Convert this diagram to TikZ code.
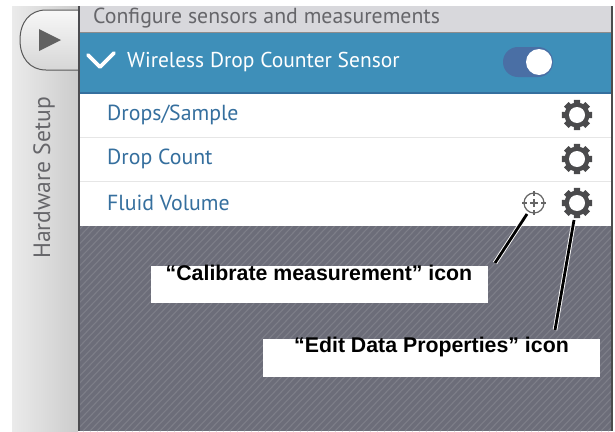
\documentclass[tikz,border=0pt]{standalone}
\usepackage{fontspec}
\setmainfont{PT Sans}
\newfontfamily\callfont{Liberation Sans}
\definecolor{blueband}{HTML}{3E8FB9}
\definecolor{bluetext}{HTML}{356F9E}
\definecolor{knobtrack}{HTML}{4A6FA5}
\definecolor{gearcol}{HTML}{4A4A4C}
\definecolor{hatchbg}{HTML}{6C6D79}
\definecolor{hatchln}{HTML}{7D7E88}
\definecolor{topband}{HTML}{D8D8DC}
\definecolor{greytext}{HTML}{66666A}
\definecolor{edgecol}{HTML}{4C4C50}
\definecolor{sepcol}{HTML}{E6E6E6}
\tikzset{
  rowlabel/.style={anchor=west,text=bluetext,font=\fontsize{21.8}{23}\selectfont,inner sep=0pt},
  callbox/.style={fill=white,inner sep=0pt,minimum height=37.5pt,minimum width=337pt},
  calltext/.style={font=\callfont\bfseries\fontsize{21.3}{23}\selectfont,text=black,inner sep=0pt,anchor=base},
  leaderw/.style={draw=white,line width=4.6pt},
  leaderb/.style={draw=black,line width=2.8pt},
  gearicon/.pic={
    \fill[gearcol,line join=round]
      \foreach \a in {0,45,...,315} {
        (\a-17:11pt) -- (\a-12:15.5pt) -- (\a+12:15.5pt) -- (\a+17:11pt) -- cycle
      };
    \fill[gearcol] (0,0) circle (12.5pt);
    \fill[white] (0,0) circle (8pt);
  },
}
\begin{document}
\begin{tikzpicture}[x=1pt,y=-1pt]
\useasboundingbox (0,0) rectangle (615,431);
\fill[white] (0,0) rectangle (615,431);
% sidebar
\shade[left color=black!8,right color=black!20] (12,6) rectangle (78,431);
% tab
\shade[top color=black!3,bottom color=black!16,draw=black!65,line width=1pt]
  (78,10) -- (46,10) .. controls (30,10) and (20,22) .. (20,40) .. controls (20,58) and (30,70) .. (46,70) -- (78,70);
\fill[black!62] (39,29) -- (61,40) -- (39,51) -- cycle;
\node[rotate=90,text=greytext,font=\fontsize{23.6}{25}\selectfont,inner sep=0pt] (hwsetup) at (44,178) {Hardware Setup};
% main panel
\fill[topband] (80,6) rectangle (611,32);
\fill[black!45] (80,31.5) rectangle (611,33);
\fill[blueband] (80,33) rectangle (611,92);
\fill[bluetext] (80,92) rectangle (611,93.5);
\fill[white] (80,93.5) rectangle (611,226);
\fill[sepcol] (80,136.5) rectangle (611,138);
\fill[sepcol] (80,180.5) rectangle (611,182);
\fill[hatchbg] (80,226) rectangle (611,431);
\begin{scope}
  \clip (80,226) rectangle (611,431);
  \foreach \k in {0,7,...,770} {
    \draw[hatchln,line width=1.1pt] (\k-120,431) -- ++(210,-220);
  }
\end{scope}
\fill[edgecol] (78,6) rectangle (80,431);
\fill[black!70] (611,6) rectangle (613,431);
% texts
\node[anchor=west,text=greytext,font=\fontsize{21.8}{23}\selectfont,inner sep=0pt] (title) at (93,18) {Configure sensors and measurements};
\draw[white,line width=3.8pt,line cap=round,line join=round] (88,55) -- (100,67) -- (114,53);
\node[anchor=west,text=white,font=\fontsize{21.5}{23}\selectfont,inner sep=0pt] (sensor) at (127,62) {Wireless Drop Counter Sensor};
\fill[knobtrack,rounded corners=14.9pt] (503,47) rectangle (553,77);
\fill[white] (539,62) circle (13pt);
\node[rowlabel] (r1) at (107,115) {Drops/Sample};
\node[rowlabel] (r2) at (107,159) {Drop Count};
\node[rowlabel] (r3) at (107,203) {Fluid Volume};
\pic at (577,115) {gearicon};
\pic at (577,159) {gearicon};
\pic at (577,203) {gearicon};
% target icon
\coordinate (target) at (534,203);
\draw[black!60,line width=1.2pt] (target) circle (10pt);
\draw[black!60,line width=1.2pt] (534,191) -- (534,196) (534,210) -- (534,215) (522,203) -- (527,203) (541,203) -- (546,203) (530,203) -- (538,203) (534,199) -- (534,207);
% callouts
\coordinate (gearfoot) at (574,220);
\coordinate (targetfoot) at (527,214);
\coordinate (calltip) at (495,263);
\coordinate (edittip) at (555,330);
\draw[leaderw] (targetfoot) -- (calltip);
\draw[leaderw] (gearfoot) -- (edittip);
\draw[leaderb] (targetfoot) -- (calltip);
\draw[leaderb] (gearfoot) -- (edittip);
\node[callbox] (calbox) at (319.5,284.5) {};
\node[callbox] (editbox) at (431.5,358) {};
\node[calltext] (caltext) at (319,280) {“Calibrate measurement” icon};
\node[calltext] (edittext) at (431.5,352) {“Edit Data Properties” icon};
\end{tikzpicture}
\end{document}
